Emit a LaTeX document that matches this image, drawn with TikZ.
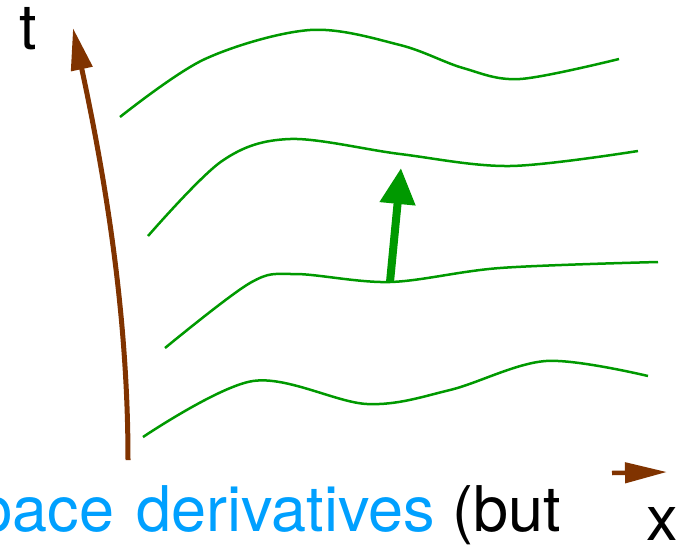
\documentclass[tikz,border=0pt]{standalone}
\usepackage{fontspec}
\setmainfont{TeX Gyre Heros}
\usetikzlibrary{arrows.meta}
\definecolor{brownc}{HTML}{803300}
\definecolor{greenc}{HTML}{009900}
\definecolor{bluec}{HTML}{00A0FF}
\begin{document}
\begin{tikzpicture}[x=1pt,y=-1pt,
  wave/.style={greenc,line width=2.5pt},
  bigtxt/.style={font=\fontsize{63}{70}\selectfont,inner sep=0pt,anchor=base west}]
\useasboundingbox (0,0) rectangle (691,544);
\clip (0,0) rectangle (691,544);
% time axis
\coordinate (tb) at (128,460);
\coordinate (tt) at (73,28);
\draw[brownc,line width=5pt,-{Triangle[length=42pt,width=21pt]}]
  (tb) .. controls (128,330) and (110,200) .. (tt);
\node[bigtxt] (tlab) at (19,49) {t};
% space axis
\coordinate (xa) at (612,473);
\coordinate (xb) at (667,472);
\draw[brownc,line width=4.5pt,-{Triangle[length=42pt,width=20pt]}] (xa) -- (xb);
\node[bigtxt] (xlab) at (646,540) {x};
% waves
\draw[wave] plot[smooth,tension=0.55] coordinates {(120,117) (205,59) (310,30) (400,45) (463,68) (520,79) (619,59)};
\draw[wave] plot[smooth,tension=0.55] coordinates {(148,236) (222,161) (290,139) (400,154) (510,166) (638,151)};
\draw[wave] plot[smooth,tension=0.55] coordinates {(165,348) (250,283) (295,274) (390,282) (500,268) (658,262)};
\draw[wave] plot[smooth,tension=0.55] coordinates {(143,437) (253,381) (367,404) (450,390) (546,361) (648,376)};
% normal arrow
\coordinate (na) at (390,282);
\coordinate (nb) at (401,168);
\draw[greenc,line width=8pt,-{Triangle[length=36pt,width=34pt]}] (na) -- (nb);
% caption
\node[bigtxt] (cap) at (-54,531) {\textcolor{bluec}{space\hspace{22pt}derivatives} (but};
\end{tikzpicture}
\end{document}
